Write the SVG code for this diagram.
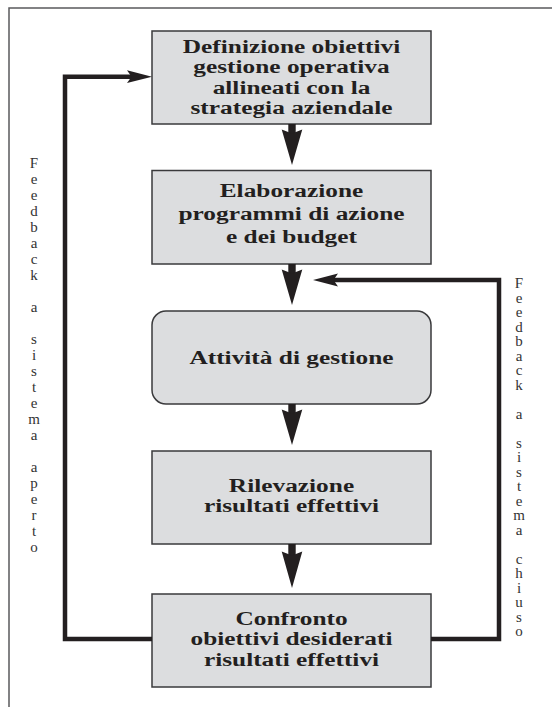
<svg xmlns="http://www.w3.org/2000/svg" width="552" height="707" viewBox="0 0 552 707">
<style>
.box{fill:#dcdddf;stroke:#3a3a3c;stroke-width:1.5}
.t{font-family:"Liberation Serif","Times New Roman",serif;font-weight:bold;font-size:19.5px;fill:#231f20;text-anchor:middle}
.vt{font-family:"Liberation Serif","Times New Roman",serif;font-size:15px;fill:#333333;text-anchor:middle}
.line{fill:none;stroke:#231f20;stroke-width:4.5;stroke-linejoin:miter}
.head{fill:#231f20}
</style>
<rect width="552" height="707" fill="#ffffff"/>
<path d="M9,707 V8 H552" fill="none" stroke="#5a5a5c" stroke-width="1.5"/>

<g id="n1">
<rect class="box" x="152" y="31" width="279" height="93"/>
<g transform="translate(291.5 0) scale(1.3 1)">
<text class="t" x="0" y="53">Definizione obiettivi</text>
<text class="t" x="0" y="73.5">gestione operativa</text>
<text class="t" x="0" y="94">allineati con la</text>
<text class="t" x="0" y="114.5">strategia aziendale</text>
</g>
</g>

<g id="n2">
<rect class="box" x="152" y="170.5" width="279" height="93.5"/>
<g transform="translate(291.5 0) scale(1.3 1)">
<text class="t" x="0" y="197.5">Elaborazione</text>
<text class="t" x="0" y="220.5">programmi di azione</text>
<text class="t" x="0" y="243.5">e dei budget</text>
</g>
</g>

<g id="n3">
<rect class="box" x="152" y="311" width="279" height="93" rx="14" ry="14"/>
<g transform="translate(291.5 0) scale(1.3 1)">
<text class="t" x="0" y="364">Attività di gestione</text>
</g>
</g>

<g id="n4">
<rect class="box" x="152" y="451" width="279" height="93"/>
<g transform="translate(291.5 0) scale(1.3 1)">
<text class="t" x="0" y="492.5">Rilevazione</text>
<text class="t" x="0" y="512.5">risultati effettivi</text>
</g>
</g>

<g id="n5">
<rect class="box" x="152" y="594" width="279" height="93"/>
<g transform="translate(291.5 0) scale(1.3 1)">
<text class="t" x="0" y="625">Confronto</text>
<text class="t" x="0" y="645.5">obiettivi desiderati</text>
<text class="t" x="0" y="666.5">risultati effettivi</text>
</g>
</g>

<g id="connectors">
<g id="down-arrows">
<g transform="translate(0 124)"><rect class="head" x="288.3" y="0" width="7.4" height="10"/><path class="head" d="M281.7,5.5 L292,9.5 L302.3,5.5 L292,41 Z"/></g>
<g transform="translate(0 264)"><rect class="head" x="288.3" y="0" width="7.4" height="10"/><path class="head" d="M281.7,5.5 L292,9.5 L302.3,5.5 L292,41 Z"/></g>
<g transform="translate(0 404)"><rect class="head" x="288.3" y="0" width="7.4" height="10"/><path class="head" d="M281.7,5.5 L292,9.5 L302.3,5.5 L292,41 Z"/></g>
<g transform="translate(0 544)"><rect class="head" x="288.3" y="0" width="7.4" height="12"/><path class="head" d="M281.7,7.5 L292,11.5 L302.3,7.5 L292,44 Z"/></g>
</g>
<g id="feedback-open">
<path class="line" d="M152,639 H65 V76.7 H132"/>
<path class="head" d="M152,76.7 L127,70.3 L131.5,76.7 L127,83.1 Z"/>
</g>
<g id="feedback-closed">
<path class="line" d="M431,639 H499 V280 H333"/>
<path class="head" d="M313,280 L338,273.6 L333.5,280 L338,286.4 Z"/>
</g>
</g>

<g id="label-open">
<text class="vt"><tspan x="34" y="168">F</tspan><tspan x="34" y="184">e</tspan><tspan x="34" y="200">e</tspan><tspan x="34" y="216">d</tspan><tspan x="34" y="232">b</tspan><tspan x="34" y="248">a</tspan><tspan x="34" y="264">c</tspan><tspan x="34" y="280">k</tspan><tspan x="34" y="312">a</tspan><tspan x="34" y="344">s</tspan><tspan x="34" y="360">i</tspan><tspan x="34" y="376">s</tspan><tspan x="34" y="392">t</tspan><tspan x="34" y="408">e</tspan><tspan x="34" y="424">m</tspan><tspan x="34" y="440">a</tspan><tspan x="34" y="472">a</tspan><tspan x="34" y="488">p</tspan><tspan x="34" y="504">e</tspan><tspan x="34" y="520">r</tspan><tspan x="34" y="536">t</tspan><tspan x="34" y="552">o</tspan></text>
</g>
<g id="label-closed">
<text class="vt"><tspan x="519" y="288">F</tspan><tspan x="519" y="302.5">e</tspan><tspan x="519" y="317">e</tspan><tspan x="519" y="331.5">d</tspan><tspan x="519" y="346">b</tspan><tspan x="519" y="360.5">a</tspan><tspan x="519" y="375">c</tspan><tspan x="519" y="389.5">k</tspan><tspan x="519" y="418.5">a</tspan><tspan x="519" y="447.5">s</tspan><tspan x="519" y="462">i</tspan><tspan x="519" y="476.5">s</tspan><tspan x="519" y="491">t</tspan><tspan x="519" y="505.5">e</tspan><tspan x="519" y="520">m</tspan><tspan x="519" y="534.5">a</tspan><tspan x="519" y="563.5">c</tspan><tspan x="519" y="578">h</tspan><tspan x="519" y="592.5">i</tspan><tspan x="519" y="607">u</tspan><tspan x="519" y="621.5">s</tspan><tspan x="519" y="636">o</tspan></text>
</g>
</svg>
